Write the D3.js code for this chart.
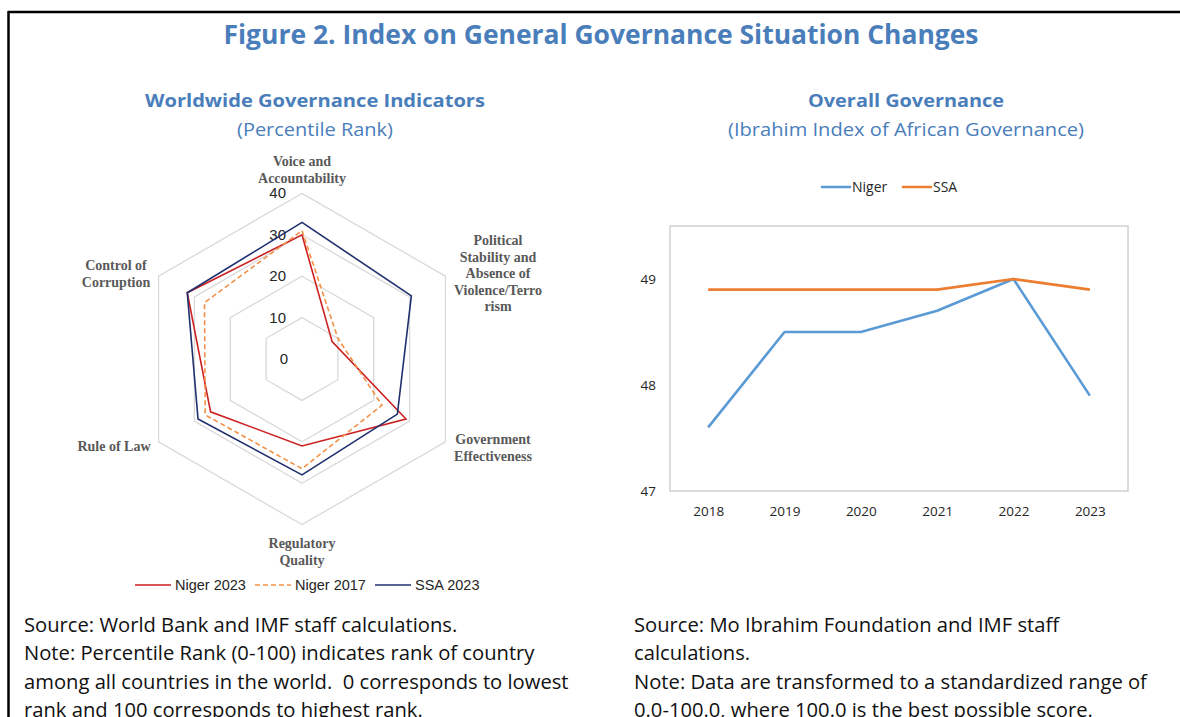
<!DOCTYPE html>
<html>
<head>
<meta charset="utf-8">
<script src="https://d3js.org/d3.v7.min.js"></script>
<style>
  body { margin: 0; background: #fff; }
  svg { display: block; }
</style>
</head>
<body>
<div id="chart"></div>
<script>
// radar data (WGI percentile rank)
var dimensions = [
  ["Voice and", "Accountability"],
  ["Political", "Stability and", "Absence of", "Violence/Terro", "rism"],
  ["Government", "Effectiveness"],
  ["Regulatory", "Quality"],
  ["Rule of Law"],
  ["Control of", "Corruption"]
];
var niger2023 = [30, 8.4, 29, 21, 25.5, 32];
var niger2017 = [31, 10, 22.3, 26.5, 27, 27.2];
var ssa2023 = [33, 30.5, 26.6, 28, 29, 32];
var radarTicks = [0, 10, 20, 30, 40];

// line chart data (Ibrahim index)
var years = ["2018", "2019", "2020", "2021", "2022", "2023"];
var nigerIIAG = [47.6, 48.5, 48.5, 48.7, 49.0, 47.9];
var ssaIIAG = [48.9, 48.9, 48.9, 48.9, 49.0, 48.9];
var lineTicks = [47, 48, 49];

var W = 1180, H = 717;
var blue = "#4a7ebb";
var svg = d3.select("#chart").append("svg").attr("width", W).attr("height", H);

// frame
svg.append("line").attr("x1", 8).attr("x2", W).attr("y1", 12).attr("y2", 12)
  .attr("stroke", "#000").attr("stroke-width", 2.5);
svg.append("line").attr("x1", 8.5).attr("x2", 8.5).attr("y1", 11).attr("y2", H)
  .attr("stroke", "#000").attr("stroke-width", 2.5);

svg.append("text").attr("x", 601).attr("y", 44).attr("text-anchor", "middle")
  .attr("font-family", "Open Sans").attr("font-weight", 700).attr("font-size", 26)
  .attr("fill", blue).attr("textLength", 755).attr("lengthAdjust", "spacingAndGlyphs")
  .text("Figure 2. Index on General Governance Situation Changes");

function heading(x, t1, w1, t2, w2) {
  svg.append("text").attr("x", x).attr("y", 107).attr("text-anchor", "middle")
    .attr("font-family", "Open Sans").attr("font-weight", 700).attr("font-size", 18)
    .attr("fill", blue).attr("textLength", w1).attr("lengthAdjust", "spacingAndGlyphs").text(t1);
  svg.append("text").attr("x", x).attr("y", 136).attr("text-anchor", "middle")
    .attr("font-family", "Open Sans").attr("font-size", 18)
    .attr("fill", blue).attr("textLength", w2).attr("lengthAdjust", "spacingAndGlyphs").text(t2);
}
heading(315, "Worldwide Governance Indicators", 340, "(Percentile Rank)", 156);
heading(906, "Overall Governance", 196, "(Ibrahim Index of African Governance)", 356);

// ---------- radar ----------
var cx = 302, cy = 359;
var r = d3.scaleLinear().domain([0, 40]).range([0, 165.6]);
var ang = function(i) { return i * 2 * Math.PI / dimensions.length; };
var radar = svg.append("g").attr("transform", "translate(" + cx + "," + cy + ")");

var radial = d3.lineRadial()
  .angle(function(d, i) { return ang(i); })
  .radius(function(d) { return r(d); })
  .curve(d3.curveLinearClosed);

radar.selectAll(".ring").data(radarTicks.filter(function(t) { return t > 0; }))
  .enter().append("path")
  .attr("d", function(t) { return radial(dimensions.map(function() { return t; })); })
  .attr("fill", "none").attr("stroke", "#d9d9d9").attr("stroke-width", 1.3);

radar.selectAll(".tick").data(radarTicks).enter().append("text")
  .attr("x", function(t) { return t === 0 ? -14 : -16; })
  .attr("y", function(t) { return -r(t) + 5; })
  .attr("text-anchor", "end")
  .attr("font-family", "Liberation Sans").attr("font-size", 15).attr("fill", "#262626")
  .text(function(t) { return t; });

var series = [
  { name: "Niger 2023", values: niger2023, color: "#cc1f1f", dash: null },
  { name: "Niger 2017", values: niger2017, color: "#f39048", dash: "5,3" },
  { name: "SSA 2023", values: ssa2023, color: "#1f2f6e", dash: null }
];
radar.selectAll(".series").data(series).enter().append("path")
  .attr("d", function(s) { return radial(s.values); })
  .attr("fill", "none").attr("stroke", function(s) { return s.color; })
  .attr("stroke-dasharray", function(s) { return s.dash; })
  .attr("stroke-width", 1.6).attr("stroke-linejoin", "miter");

// axis labels
var labelPos = [[302, 166], [498, 245], [493, 444], [302, 548], [114, 451], [116, 270]];
dimensions.forEach(function(lines, i) {
  var t = svg.append("text").attr("text-anchor", "middle")
    .attr("font-family", "Liberation Serif").attr("font-weight", 700).attr("font-size", 14)
    .attr("fill", "#595959");
  lines.forEach(function(l, j) {
    t.append("tspan").attr("x", labelPos[i][0]).attr("y", labelPos[i][1] + j * 16.6).text(l);
  });
});

// radar legend
var lg = svg.append("g").attr("transform", "translate(0,585)");
var legX = [135, 255, 375];
series.forEach(function(s, i) {
  lg.append("line").attr("x1", legX[i]).attr("x2", legX[i] + 36).attr("y1", 0).attr("y2", 0)
    .attr("stroke", s.color).attr("stroke-width", 1.6).attr("stroke-dasharray", s.dash);
  lg.append("text").attr("x", legX[i] + 40).attr("y", 5)
    .attr("font-family", "Liberation Sans").attr("font-size", 14.5).attr("fill", "#262626")
    .text(s.name);
});

// ---------- line chart ----------
var px0 = 670, px1 = 1128, py0 = 226, py1 = 491;
var x = d3.scalePoint().domain(years).range([px0, px1]).padding(0.5);
var y = d3.scaleLinear().domain([47, 49.5]).range([py1, py0]);

svg.append("rect").attr("x", px0).attr("y", py0).attr("width", px1 - px0).attr("height", py1 - py0)
  .attr("fill", "none").attr("stroke", "#d0d0d0").attr("stroke-width", 1.5);

var yAxis = svg.append("g").attr("transform", "translate(" + px0 + ",0)")
  .call(d3.axisLeft(y).tickValues(lineTicks).tickSize(0).tickPadding(14).tickFormat(d3.format("d")));
var xAxis = svg.append("g").attr("transform", "translate(0," + py1 + ")")
  .call(d3.axisBottom(x).tickSize(0).tickPadding(15));
[yAxis, xAxis].forEach(function(a) {
  a.select(".domain").remove();
  a.selectAll("text").attr("font-family", "Open Sans").attr("font-size", 13.5).attr("fill", "#262626");
});

var lineSeries = [
  { name: "Niger", values: nigerIIAG, color: "#5b9bd5" },
  { name: "SSA", values: ssaIIAG, color: "#ed7d31" }
];
var line = d3.line().x(function(d, i) { return x(years[i]); }).y(function(d) { return y(d); });
svg.selectAll(".lseries").data(lineSeries).enter().append("path")
  .attr("d", function(s) { return line(s.values); })
  .attr("fill", "none").attr("stroke", function(s) { return s.color; })
  .attr("stroke-width", 2.6).attr("stroke-linejoin", "round");

var lx = [822, 903];
lineSeries.forEach(function(s, i) {
  svg.append("line").attr("x1", lx[i]).attr("x2", lx[i] + 28).attr("y1", 187).attr("y2", 187)
    .attr("stroke", s.color).attr("stroke-width", 2.6).attr("stroke-linecap", "round");
  svg.append("text").attr("x", lx[i] + 30).attr("y", 192)
    .attr("font-family", "Open Sans").attr("font-size", 14).attr("fill", "#262626").text(s.name);
});

// ---------- notes ----------
var leftNote = [
  "Source: World Bank and IMF staff calculations.",
  "Note: Percentile Rank (0-100) indicates rank of country",
  "among all countries in the world.  0 corresponds to lowest",
  "rank and 100 corresponds to highest rank."
];
var rightNote = [
  "Source: Mo Ibrahim Foundation and IMF staff",
  "calculations.",
  "Note: Data are transformed to a standardized range of",
  "0.0-100.0, where 100.0 is the best possible score."
];
function note(lines, x0) {
  svg.append("g").selectAll("text").data(lines).enter().append("text")
    .attr("x", x0).attr("y", function(d, i) { return 632 + i * 28.3; })
    .attr("font-family", "Open Sans").attr("font-size", 20.2).attr("fill", "#111")
    .attr("xml:space", "preserve").style("white-space", "pre")
    .text(function(d) { return d; });
}
note(leftNote, 24);
note(rightNote, 634);
</script>
</body>
</html>
